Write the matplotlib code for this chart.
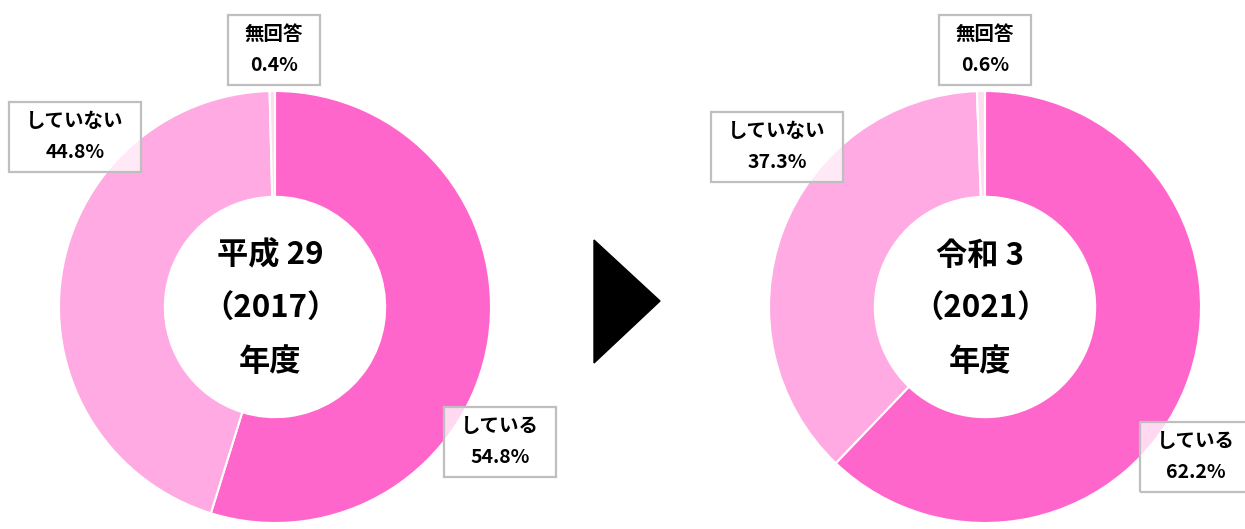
import matplotlib
matplotlib.use("Agg")
from matplotlib import pyplot as plt
from matplotlib.patches import Polygon, Rectangle

plt.rcParams['font.family'] = ['Noto Sans CJK JP', 'DejaVu Sans']

labels = ['している', 'していない', '無回答']
values_2017 = [54.8, 44.8, 0.4]
values_2021 = [62.2, 37.3, 0.6]
titles = ['平成 29\n（2017）\n年度', '令和 3\n（2021）\n年度']
colors = ['#FF66CC', '#FFAAE2', '#FFDDF0']

W, H = 1245, 529
fig = plt.figure(figsize=(W / 100, H / 100), dpi=100)
ax = fig.add_axes([0, 0, 1, 1])


def py(y):
    # 上からのピクセル位置を下からの座標に直す
    return H - y


R = 216
centers = [(275, 307), (985, 307)]
# ラベル箱の中心（している, していない, 無回答）
label_pos = [
    [(500, 442), (75, 137), (274, 50)],
    [(1196, 457), (777, 147), (985, 50)],
]

label_texts = []
for vals, title, (cx, cy), lpos in zip([values_2017, values_2021], titles, centers, label_pos):
    ax.pie(vals, colors=colors, startangle=90, counterclock=False,
           center=(cx, py(cy)), radius=R,
           wedgeprops=dict(width=R * 0.49, edgecolor='white', linewidth=1.5))
    ax.text(cx - 5, py(cy + 2), title, ha='center', va='center', fontsize=22.5,
            fontweight='bold', linespacing=1.85)
    for lab, v, (lx, ly) in zip(labels, vals, lpos):
        t = ax.text(lx, py(ly), f'{lab}\n{v:.1f}%', ha='center', va='center',
                    fontsize=14, fontweight='bold', linespacing=1.85, zorder=5)
        label_texts.append((t, lx, ly))

ax.set_xlim(0, W)
ax.set_ylim(0, H)
ax.set_aspect('auto')
ax.axis('off')

# 文字幅に合わせて半透明の枠を描く
fig.canvas.draw()
renderer = fig.canvas.get_renderer()
for t, lx, ly in label_texts:
    bb = t.get_window_extent(renderer)
    w = bb.width + 34
    h = 70
    ax.add_patch(Rectangle((lx - w / 2, py(ly) - h / 2), w, h, facecolor='white',
                           alpha=0.75, edgecolor='none', zorder=3))
    ax.add_patch(Rectangle((lx - w / 2, py(ly) - h / 2), w, h, facecolor='none',
                           edgecolor='#BFBFBF', linewidth=1.6, zorder=4))

tri = Polygon([(594, py(240)), (594, py(363)), (660, py(301))],
              closed=True, facecolor='black', edgecolor='black')
ax.add_patch(tri)

fig.savefig('out.png', dpi=100)
